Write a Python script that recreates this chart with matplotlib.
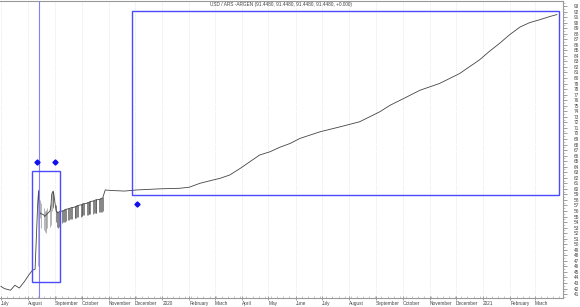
import matplotlib
matplotlib.use("Agg")
import matplotlib.pyplot as plt
import matplotlib.dates as mdates
from matplotlib.patches import Rectangle
import pandas as pd
import numpy as np

plt.rcParams['font.family'] = ['Liberation Sans', 'DejaVu Sans']

# ---------------- data ----------------
title_text = "USD / ARS -ARGEN (91.4480, 91.4480, 91.4480, 91.4480, +0.000)"

pre_dates = ["2019-07-01", "2019-07-05", "2019-07-12", "2019-07-17", "2019-07-22",
             "2019-07-28", "2019-08-02", "2019-08-06", "2019-08-09"]
pre_close = [42.4, 42.0, 41.7, 42.6, 42.1, 43.3, 44.5, 45.3, 45.5]

# volatile period: business days from 2019-08-12
bar_start = "2019-08-12"
bar_high = [60.0, 60.4, 60.3, 58.0, 57.5,
            56.5, 56.0, 56.0, 56.2, 56.5,
            57.0, 57.5, 59.5, 59.8, 59.6,
            57.0, 56.0, 55.9, 56.0, 56.0,
            56.1, 56.2, 56.3, 56.3, 56.4,
            56.5, 56.6, 56.6, 56.7, 56.8,
            56.8, 56.9, 57.0, 57.0, 57.1,
            57.2, 57.3, 57.4, 57.4, 57.5,
            57.6, 57.6, 57.7, 57.8, 57.8,
            57.9, 58.0, 58.0, 58.1, 58.2,
            58.2, 58.3, 58.3, 58.4, 58.5]
bar_low = [46.0, 55.5, 55.0, 54.8, 53.0,
           52.5, 52.2, 52.0, 52.5, 53.0,
           53.2, 53.5, 56.0, 56.5, 56.8,
           54.0, 53.2, 53.0, 53.2, 53.5,
           53.8, 54.0, 54.0, 54.1, 54.2,
           54.3, 54.4, 54.5, 54.5, 54.6,
           54.7, 54.8, 54.8, 54.9, 55.0,
           55.0, 55.1, 55.1, 55.2, 55.2,
           55.3, 55.3, 55.4, 55.4, 55.5,
           55.5, 55.6, 55.6, 55.7, 55.7,
           55.8, 55.8, 55.9, 55.9, 56.0]
bar_close = [57.3, 59.6, 56.0, 55.5, 55.5,
             55.3, 55.0, 55.2, 55.4, 55.5,
             56.0, 56.8, 59.0, 59.5, 59.4,
             56.0, 55.8, 55.7, 55.8, 55.9,
             56.0, 56.0, 56.1, 56.2, 56.3,
             56.4, 56.4, 56.5, 56.6, 56.6,
             56.7, 56.8, 56.8, 56.9, 57.0,
             57.1, 57.1, 57.2, 57.3, 57.3,
             57.4, 57.5, 57.5, 57.6, 57.7,
             57.8, 57.8, 57.9, 58.0, 58.0,
             58.1, 58.1, 58.2, 58.3, 58.3]

post_dates = ["2019-10-28", "2019-11-04", "2019-11-19", "2019-12-03", "2019-12-29",
              "2020-01-21", "2020-02-01", "2020-02-13", "2020-02-28", "2020-03-07",
              "2020-03-18", "2020-03-30", "2020-04-10", "2020-04-21", "2020-05-03",
              "2020-05-14", "2020-05-26", "2020-06-06", "2020-06-29", "2020-07-22",
              "2020-08-13", "2020-09-05", "2020-09-17", "2020-10-01", "2020-10-21",
              "2020-11-12", "2020-12-05", "2020-12-28", "2021-01-08", "2021-01-20",
              "2021-01-31", "2021-02-12", "2021-02-23", "2021-03-06", "2021-03-18",
              "2021-03-26"]
post_close = [59.8, 59.7, 59.6, 59.8, 60.0,
              60.1, 60.3, 61.0, 61.6, 61.9,
              62.5, 63.7, 64.9, 66.1, 66.7,
              67.5, 68.2, 69.1, 70.3, 71.2,
              72.1, 73.9, 75.1, 76.2, 77.8,
              79.0, 80.8, 83.3, 84.8, 86.3,
              87.8, 89.2, 90.0, 90.5, 91.1,
              91.448]

month_labels = ["July", "August", "September", "October", "November", "December",
                "2020", "February", "March", "April", "May", "June", "July", "August",
                "September", "October", "November", "December", "2021", "February", "March"]
month_starts = pd.date_range("2019-07-01", "2021-03-01", freq="MS")

# annotations (date, value)
vline_date = "2019-08-13"
rect1 = ("2019-08-06", "2019-09-06", 43.2, 63.2)
rect2 = ("2019-11-28", "2021-03-28", 58.9, 92.1)
dot_dates = ["2019-08-11", "2019-09-01", "2019-12-03"]
dot_vals = [64.8, 64.8, 57.2]

# ---------------- figure ----------------
W, H = 580, 307
fig = plt.figure(figsize=(W / 100, H / 100), dpi=100)
ax = fig.add_axes([0, 9 / H, 563 / W, 297 / H])

ax.set_xlim(pd.Timestamp("2019-06-30"), pd.Timestamp("2021-04-02"))
ax.set_ylim(40.3, 93.9)

# grid
for d in month_starts:
    ax.axvline(d, color="#d8d8d8", lw=0.5, ls=(0, (1, 1.5)), zorder=0)

line_col = "#444444"
pre_d = pd.to_datetime(pre_dates)
post_d = pd.to_datetime(post_dates)
bar_d = pd.bdate_range(bar_start, periods=len(bar_high))

all_d = list(pre_d) + list(bar_d) + list(post_d)
all_c = pre_close + bar_close + post_close
ax.plot(all_d, all_c, color=line_col, lw=0.6, zorder=3)

cols = ["#9a9a9a" if (h - l) > 3.0 else "#555555" for h, l in zip(bar_high, bar_low)]
ax.vlines(bar_d, bar_low, bar_high, colors=cols, lw=0.5, zorder=2)

# annotations
blue = "#4a4aff"
ax.axvline(pd.Timestamp(vline_date), color="#8080ff", lw=0.8, zorder=4)
for (d0, d1, v0, v1) in (rect1, rect2):
    x0 = mdates.date2num(pd.Timestamp(d0))
    x1 = mdates.date2num(pd.Timestamp(d1))
    ax.add_patch(Rectangle((x0, v0), x1 - x0, v1 - v0, fill=False,
                           edgecolor=blue, lw=1.0, zorder=5))
ax.plot(pd.to_datetime(dot_dates), dot_vals, ls="none", marker="D", ms=2.6,
        color="#1010ee", zorder=6)

# title text
ax.text(0.5, 0.995, title_text, transform=ax.transAxes, ha="center", va="top",
        fontsize=3.4, color="#444444")

# axes styling
ax.spines["left"].set_visible(False)
for s in ["top", "bottom", "right"]:
    ax.spines[s].set_color("#999999")
    ax.spines[s].set_linewidth(0.8)

ax.yaxis.tick_right()
ax.set_yticks(np.arange(41, 94))
ax.set_yticks(np.arange(40.5, 94, 1.0), minor=True)
ax.tick_params(axis="y", which="major", length=3, width=0.5, color="#777777",
               labelsize=3.4, labelcolor="#444444", pad=5)
ax.tick_params(axis="y", which="minor", length=1.5, width=0.4, color="#999999")

ax.set_xticks(month_starts)
ax.set_xticklabels(month_labels)
for lbl in ax.get_xticklabels():
    lbl.set_horizontalalignment("left")
ax.xaxis.set_minor_locator(mdates.WeekdayLocator(byweekday=mdates.MO))
ax.tick_params(axis="x", which="major", length=2.5, width=0.5, color="#777777",
               labelsize=3.4, labelcolor="#444444", pad=1, direction="inout")
ax.tick_params(axis="x", which="minor", length=1.5, width=0.4, color="#999999",
               direction="in")

fig.savefig("out.png", dpi=100)
